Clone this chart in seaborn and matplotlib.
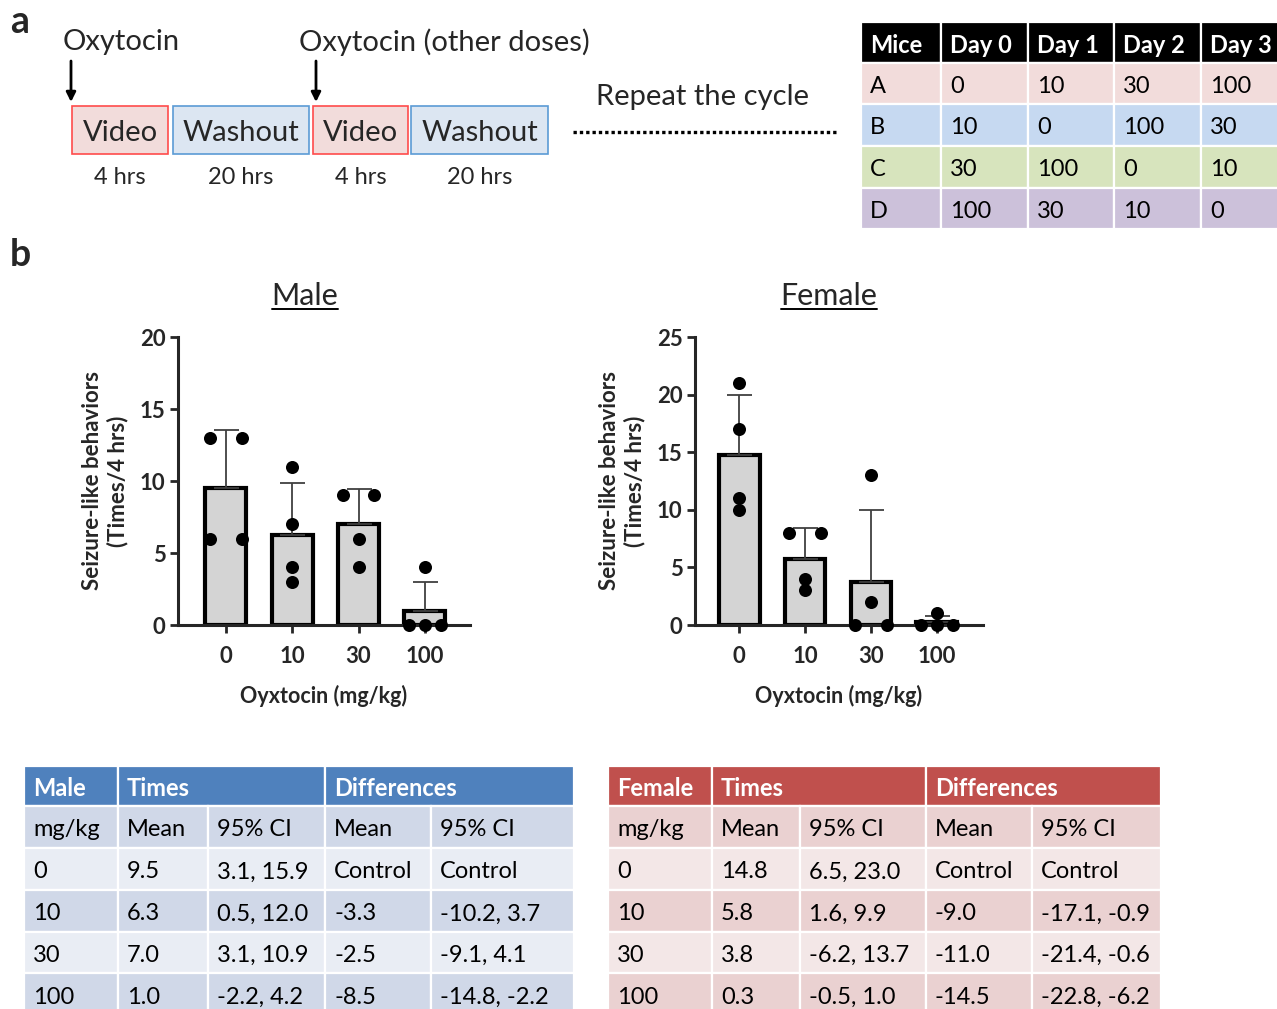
import numpy as np
import pandas as pd
import matplotlib
matplotlib.use("Agg")
import matplotlib.pyplot as plt
from matplotlib.patches import Rectangle
import seaborn as sns

W, H = 1277, 1009

# panel b data: individual mice per dose
doses = ["0", "10", "30", "100"]
male_counts = [[13, 13, 6, 6], [11, 7, 4, 3], [9, 9, 6, 4], [4, 0, 0, 0]]
female_counts = [[21, 17, 11, 10], [8, 8, 4, 3], [13, 2, 0, 0], [1, 0, 0, 0]]

# panel a: schedule table
sched_header = ["Mice", "Day 0", "Day 1", "Day 2", "Day 3"]
sched_mice = ["A", "B", "C", "D"]
sched_doses = [["0", "10", "30", "100"],
               ["10", "0", "100", "30"],
               ["30", "100", "0", "10"],
               ["100", "30", "10", "0"]]
sched_colors = ["#F2DCDB", "#C6D9F1", "#D7E4BD", "#CCC1DA"]

# stats tables
stat_cols = ["mg/kg", "Mean", "95% CI", "Mean", "95% CI"]
male_mean = ["9.5", "6.3", "7.0", "1.0"]
male_ci = ["3.1, 15.9", "0.5, 12.0", "3.1, 10.9", "-2.2, 4.2"]
male_diff = ["Control", "-3.3", "-2.5", "-8.5"]
male_diff_ci = ["Control", "-10.2, 3.7", "-9.1, 4.1", "-14.8, -2.2"]
female_mean = ["14.8", "5.8", "3.8", "0.3"]
female_ci = ["6.5, 23.0", "1.6, 9.9", "-6.2, 13.7", "-0.5, 1.0"]
female_diff = ["Control", "-9.0", "-11.0", "-14.5"]
female_diff_ci = ["Control", "-17.1, -0.9", "-21.4, -0.6", "-22.8, -6.2"]

sns.set_style("ticks")
plt.rcParams["font.family"] = ["Lato", "DejaVu Sans"]

fig = plt.figure(figsize=(W / 100, H / 100), dpi=100)
ov = fig.add_axes([0, 0, 1, 1])
ov.set_xlim(0, W)
ov.set_ylim(H, 0)
ov.axis("off")


def px_axes(x0, x1, y0, y1):
    return fig.add_axes([x0 / W, 1 - y1 / H, (x1 - x0) / W, (y1 - y0) / H])


def dose_panel(ax, counts, ymax, xlim):
    df = pd.DataFrame([(d, v) for d, vals in zip(doses, counts) for v in vals],
                      columns=["dose", "count"])
    sns.barplot(data=df, x="dose", y="count", order=doses, errorbar=None,
                color="#D4D4D4", saturation=1, edgecolor="black", linewidth=3,
                width=0.62, ax=ax, zorder=2)
    stats = df.groupby("dose")["count"].agg(["mean", "std"]).reindex(doses)
    pos = np.arange(len(doses))
    ax.errorbar(pos, stats["mean"], yerr=[np.zeros(len(doses)), stats["std"]],
                fmt="none", ecolor="#404040", elinewidth=1.3, capsize=9,
                capthick=1.3, zorder=3)
    # spread tied values sideways like a scatter-dot plot
    xs, ys = [], []
    for i, vals in enumerate(counts):
        for v in sorted(set(vals)):
            n = vals.count(v)
            offs = np.linspace(-0.24, 0.24, n) if n > 1 else [0.0]
            for o in offs:
                xs.append(i + o)
                ys.append(v)
    ax.scatter(xs, ys, s=88, color="black", zorder=5, clip_on=False, linewidths=0)
    ax.set_xlim(*xlim)
    ax.set_ylim(0, ymax)
    ax.set_yticks(np.arange(0, ymax + 1, 5))
    ax.set_xticks(pos)
    ax.set_xticklabels(doses)
    sns.despine(ax=ax)
    for s in ["left", "bottom"]:
        ax.spines[s].set_linewidth(2.2)
    ax.tick_params(width=2, length=6, labelsize=16, pad=3)
    ax.tick_params(axis="x", pad=9)
    for lab in ax.get_xticklabels() + ax.get_yticklabels():
        lab.set_fontweight("bold")
    ax.set_xlabel("Oyxtocin (mg/kg)", fontsize=15.5, fontweight="bold", labelpad=13)
    ax.set_ylabel("Seizure-like behaviors\n(Times/4 hrs)", fontsize=16,
                  fontweight="bold", labelpad=8, linespacing=1.2)
    ax.patch.set_alpha(0)


ax_m = px_axes(178, 470, 337, 625)
dose_panel(ax_m, male_counts, 20, (-0.72, 3.68))
ax_f = px_axes(695, 983, 337, 625)
dose_panel(ax_f, female_counts, 25, (-0.67, 3.7))

# panel letters
ov.text(10, 22, "a", fontsize=27, fontweight="bold", va="center")
ov.text(10, 255, "b", fontsize=27, fontweight="bold", va="center")

# titles with underline
titles = []
for x, name in [(305, "Male"), (829, "Female")]:
    titles.append(ov.text(x, 296, name, fontsize=22, ha="center", va="center"))

# timeline diagram
boxes = [("Video", 72, 168, "#F2DCDB", "#FF4B4B", "4 hrs"),
         ("Washout", 173, 309, "#DCE6F2", "#5B9BD5", "20 hrs"),
         ("Video", 313, 408, "#F2DCDB", "#FF4B4B", "4 hrs"),
         ("Washout", 411, 548, "#DCE6F2", "#5B9BD5", "20 hrs")]
for label, x0, x1, fc, ec, dur in boxes:
    ov.add_patch(Rectangle((x0, 106), x1 - x0, 48, facecolor=fc, edgecolor=ec, lw=1.2))
    ov.text((x0 + x1) / 2, 133, label, fontsize=21, ha="center", va="center")
    ov.text((x0 + x1) / 2, 178, dur, fontsize=17, ha="center", va="center")
ov.text(63, 42, "Oxytocin", fontsize=21, va="center")
ov.text(299, 42, "Oxytocin (other doses)", fontsize=21, va="center")
for x in (71, 316):
    ov.annotate("", xy=(x, 102), xytext=(x, 61),
                arrowprops=dict(arrowstyle="-|>", color="black", lw=2,
                                mutation_scale=14, shrinkA=0, shrinkB=0))
ov.text(702, 97, "Repeat the cycle", fontsize=21, ha="center", va="center")
ov.plot([573, 836], [132, 132], color="black", lw=2.4, ls=(0, (1, 0.9)))


def cell(x0, x1, y0, y1, fc, text, color="black", weight="normal", fs=17):
    ov.add_patch(Rectangle((x0, y0), x1 - x0, y1 - y0, facecolor=fc,
                           edgecolor="white", lw=1.6))
    ov.text(x0 + 9, (y0 + y1) / 2 + 3, text, fontsize=fs, color=color,
            fontweight=weight, ha="left", va="center")


# schedule table
sx = [861, 941, 1028, 1114, 1201, 1279]
sy = [22, 63, 104, 146, 188, 229]
for j, h in enumerate(sched_header):
    cell(sx[j], sx[j + 1], sy[0], sy[1], "black", h, "white", "bold", 17)
for i, m in enumerate(sched_mice):
    row = [m] + sched_doses[i]
    for j, t in enumerate(row):
        cell(sx[j], sx[j + 1], sy[i + 1], sy[i + 2], sched_colors[i], t, fs=17)


def stats_table(x_edges, title, head_color, band_dark, band_light, means, ci, diff, diff_ci):
    ty = [766, 806, 848, 890, 932, 973, 1015]
    cell(x_edges[0], x_edges[1], ty[0], ty[1], head_color, title, "white", "bold")
    cell(x_edges[1], x_edges[3], ty[0], ty[1], head_color, "Times", "white", "bold")
    cell(x_edges[3], x_edges[5], ty[0], ty[1], head_color, "Differences", "white", "bold")
    rows = [stat_cols] + [[d, m, c, df, dc] for d, m, c, df, dc in
                          zip(doses, means, ci, diff, diff_ci)]
    for i, row in enumerate(rows):
        fc = band_dark if i % 2 == 0 else band_light
        for j, t in enumerate(row):
            cell(x_edges[j], x_edges[j + 1], ty[i + 1], ty[i + 2], fc, t)


stats_table([24, 118, 208, 325, 431, 574], "Male", "#4F81BD", "#D0D8E8", "#E9EDF4",
            male_mean, male_ci, male_diff, male_diff_ci)
stats_table([608, 712, 800, 926, 1032, 1161], "Female", "#C0504D", "#EAD1D1", "#F3E7E7",
            female_mean, female_ci, female_diff, female_diff_ci)

# underline the panel titles
fig.canvas.draw()
for t in titles:
    bb = t.get_window_extent()
    ov.plot([bb.x0, bb.x1], [H - bb.y0 - 1, H - bb.y0 - 1], color="black", lw=1.4)

fig.savefig("out.png", dpi=100)
